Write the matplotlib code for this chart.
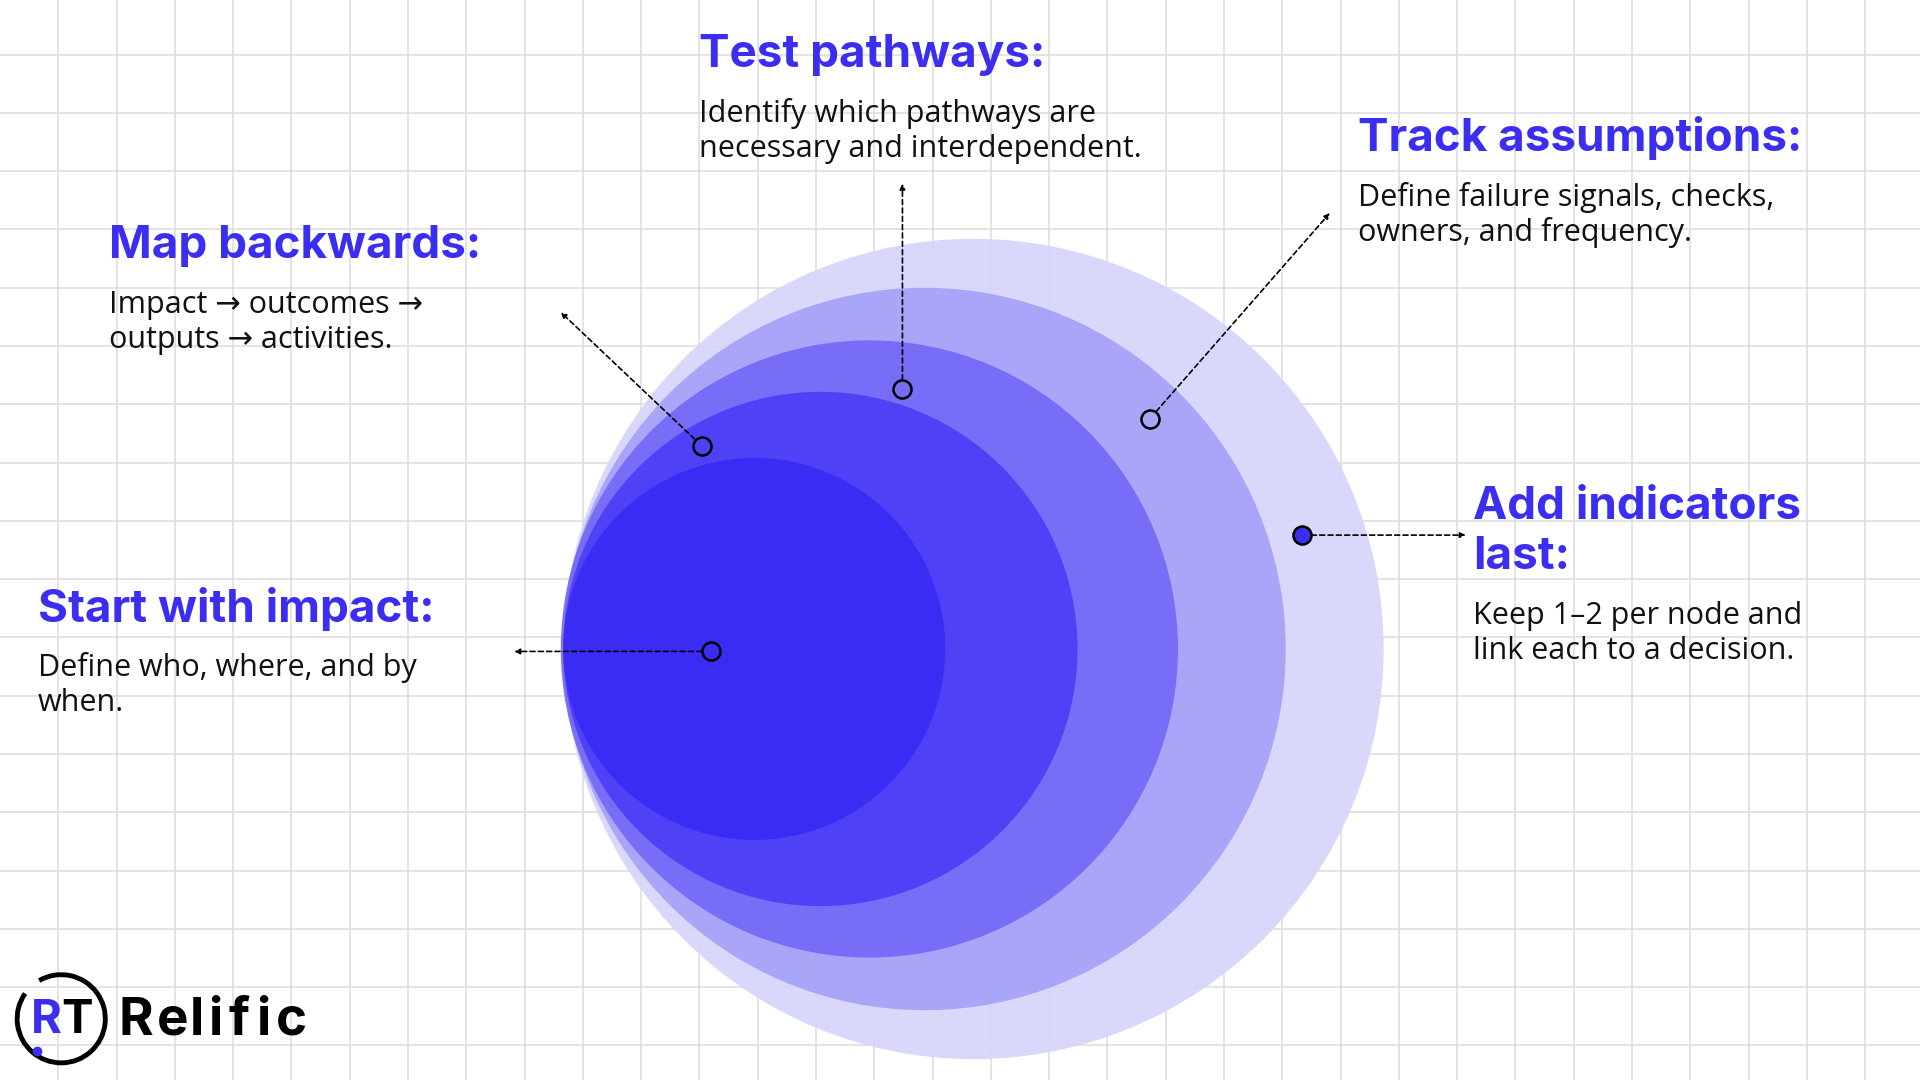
import matplotlib.pyplot as plt
from matplotlib.patches import Circle, Arc
import numpy as np

# circle layers (display coordinates of a 1568x882 canvas)
ring_cx = [795, 755, 710, 670, 616]
ring_r = [335, 295, 252, 210, 156]
ring_cy = 530
ring_colors = ['#d7d5fb', '#a6a1f8', '#7469f6', '#4c3ff6', '#3a2bf5']

# annotations: dot, arrow tip
dots = [(581, 532), (573, 364), (737, 318), (939, 342), (1063, 437)]
tips = [(420, 532), (458, 255), (737, 150), (1086, 174), (1197, 437)]

titles = ['Start with impact:', 'Map backwards:', 'Test pathways:',
          'Track assumptions:', 'Add indicators\nlast:']
bodies = ['Define who, where, and by\nwhen.',
          'Impact \u2192 outcomes \u2192\noutputs \u2192 activities.',
          'Identify which pathways are\nnecessary and interdependent.',
          'Define failure signals, checks,\nowners, and frequency.',
          'Keep 1\u20132 per node and\nlink each to a decision.']
text_x = [31, 89, 571, 1109, 1203]
title_y = [497, 201, 45, 113, 414]

BLUE = '#3b2ef0'

fig = plt.figure(figsize=(19.2, 10.8), dpi=100)
ax = fig.add_axes([0, 0, 1, 1])
ax.set_xlim(0, 1568)
ax.set_ylim(882, 0)
ax.axis('off')

# grid
step = 47.6
for gx in np.arange(step, 1568, step):
    ax.axvline(gx, color='#dcdcdc', lw=1.1, zorder=0)
for gy in np.arange(step - 3, 882, step):
    ax.axhline(gy, color='#dcdcdc', lw=1.1, zorder=0)

for cx, r, c in zip(ring_cx, ring_r, ring_colors):
    ax.add_patch(Circle((cx, ring_cy), r, color=c, lw=0, zorder=1, alpha=0.93))

for i, ((dx, dy), (tx, ty)) in enumerate(zip(dots, tips)):
    ax.annotate('', xy=(tx, ty), xytext=(dx, dy),
                arrowprops=dict(arrowstyle='-|>', ls=(0, (3, 2)), lw=1.2,
                                color='black', mutation_scale=8,
                                shrinkA=7, shrinkB=0), zorder=3)
    face = BLUE if i == 4 else 'none'
    ax.plot(dx, dy, 'o', ms=13, mfc=face, mec='black', mew=1.8, zorder=4)

for t, b, x, y in zip(titles, bodies, text_x, title_y):
    lines = t.split('\n')
    for k, ln in enumerate(lines):
        ax.text(x, y + k * 41, ln, fontsize=33, fontweight='bold', family='Inter',
                color=BLUE, va='center', ha='left', zorder=5)
    by = y + (len(lines) - 1) * 41 + 48
    for k, ln in enumerate(b.split('\n')):
        ax.text(x, by + k * 29, ln, fontsize=22, family=['Open Sans', 'DejaVu Sans'],
                color='#111111', va='center', ha='left', zorder=5)

# logo
ax.add_patch(Arc((50, 832), 72, 72, theta1=-120, theta2=215, lw=3.5,
                 color='black', zorder=5))
ax.text(38, 834, 'R', fontsize=34, fontweight='bold', family='Inter',
        color=BLUE, ha='center', va='center', zorder=6)
ax.text(63, 834, 'T', fontsize=34, fontweight='bold', family='Inter',
        color='black', ha='center', va='center', zorder=6)
ax.plot(30, 858, 'o', ms=6, color=BLUE, zorder=6)
for k, ch in enumerate('Relific'):
    ax.text(97 + [0, 31, 58, 73, 90, 112, 128][k], 834, ch, fontsize=38, fontweight='bold',
            family='Inter', color='black', ha='left', va='center', zorder=6)

fig.savefig('out.png', dpi=100, facecolor='white')
